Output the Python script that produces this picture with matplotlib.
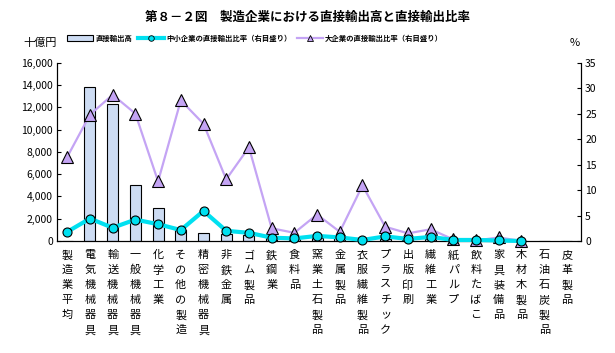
import numpy as np
import matplotlib.pyplot as plt
from matplotlib.patches import Patch
from matplotlib.lines import Line2D

plt.rcParams['font.family'] = ['Noto Sans CJK JP', 'DejaVu Sans']

# Data
categories = ['製造業平均', '電気機械器具', '輸送機械器具', '一般機械器具', '化学工業',
              'その他の製造', '精密機械器具', '非鉄金属', 'ゴム製品', '鉄鋼業', '食料品',
              '窯業土石製品', '金属製品', '衣服繊維製品', 'プラスチック', '出版印刷',
              '繊維工業', '紙パルプ', '飲料たばこ', '家具装備品', '木材木製品',
              '石油石炭製品', '皮革製品']
export_amount = [0, 13850, 12250, 5000, 2950, 980, 690, 600, 540, 300, 200,
                 250, 250, 100, 200, 50, 150, 50, 30, 30, 20, 0, 0]
sme_ratio = [1.8, 4.4, 2.6, 4.2, 3.3, 2.15, 5.9, 2.0, 1.6, 0.65, 0.5,
             1.0, 0.7, 0.2, 0.9, 0.4, 0.8, 0.2, 0.2, 0.1, 0.0]
large_ratio = [16.5, 24.8, 28.7, 25.0, 11.7, 27.6, 23.0, 12.1, 18.4, 2.5, 1.6,
               5.2, 1.8, 10.9, 2.8, 1.5, 2.3, 0.3, 0.1, 0.7, 0.0]

x = np.arange(len(categories))
bar_color = '#cddcf3'
sme_color = '#00e0f0'
large_color = '#c4a4f4'

fig = plt.figure(figsize=(6.15, 3.53), dpi=100)
ax = fig.add_axes([0.0927, 0.3173, 0.852, 0.5051])
ax2 = ax.twinx()

ax.bar(x, export_amount, width=0.48, color=bar_color, edgecolor='black', linewidth=0.8)
ax.set_ylim(0, 16000)
ax.set_xlim(-0.45, 22.62)
ax.set_yticks(np.arange(0, 16001, 2000))
ax.set_yticklabels([f'{v:,}' for v in range(0, 16001, 2000)], fontsize=7.5)
ax.tick_params(axis='y', direction='in', length=3, pad=3)
ax.set_xticks([])
ax.spines['top'].set_visible(False)

n_sme = len(sme_ratio)
ax2.plot(x[:len(large_ratio)], large_ratio, color=large_color, lw=1.6,
         marker='^', markersize=8.5, markerfacecolor=large_color,
         markeredgecolor='black', markeredgewidth=0.8, clip_on=False, zorder=3)
ax2.plot(x[:n_sme], sme_ratio, color=sme_color, lw=3,
         marker='o', markersize=6.5, markerfacecolor=sme_color,
         markeredgecolor='black', markeredgewidth=0.8, clip_on=False, zorder=4)
ax2.set_ylim(0, 35)
ax2.set_yticks(np.arange(0, 36, 5))
ax2.tick_params(axis='y', direction='in', length=3, pad=3, labelsize=7.5)
ax2.spines['top'].set_visible(False)

# vertical category labels, one character per row
for i, name in enumerate(categories):
    for k, ch in enumerate(name):
        ax.annotate(ch, xy=(i, 0), xycoords=('data', 'axes fraction'),
                    xytext=(0, -6.5 - k * 10.8), textcoords='offset points',
                    ha='center', va='top', fontsize=8)

fig.text(0.5, 0.952, '第８－２図　製造企業における直接輸出高と直接輸出比率',
         ha='center', va='center', fontsize=9, fontweight='bold')
fig.text(0.065, 0.878, '十億円', ha='center', va='center', fontsize=8)
fig.text(0.935, 0.878, '%', ha='center', va='center', fontsize=8)

handles = [Patch(facecolor=bar_color, edgecolor='black', linewidth=0.8),
           Line2D([], [], color=sme_color, lw=3, marker='o', markersize=4,
                  markerfacecolor=sme_color, markeredgecolor='black', markeredgewidth=0.6),
           Line2D([], [], color=large_color, lw=1.6, marker='^', markersize=5,
                  markerfacecolor=large_color, markeredgecolor='black', markeredgewidth=0.6)]
labels = ['直接輸出高', '中小企業の直接輸出比率（右目盛り）', '大企業の直接輸出比率（右目盛り）']
fig.legend(handles, labels, loc='center', bbox_to_anchor=(0.415, 0.892), ncol=3,
           frameon=False, prop={'size': 5.3, 'weight': 'bold'},
           handlelength=3.5, handleheight=0.8, columnspacing=0.8, handletextpad=0.3)

fig.savefig('out.png', dpi=100)
